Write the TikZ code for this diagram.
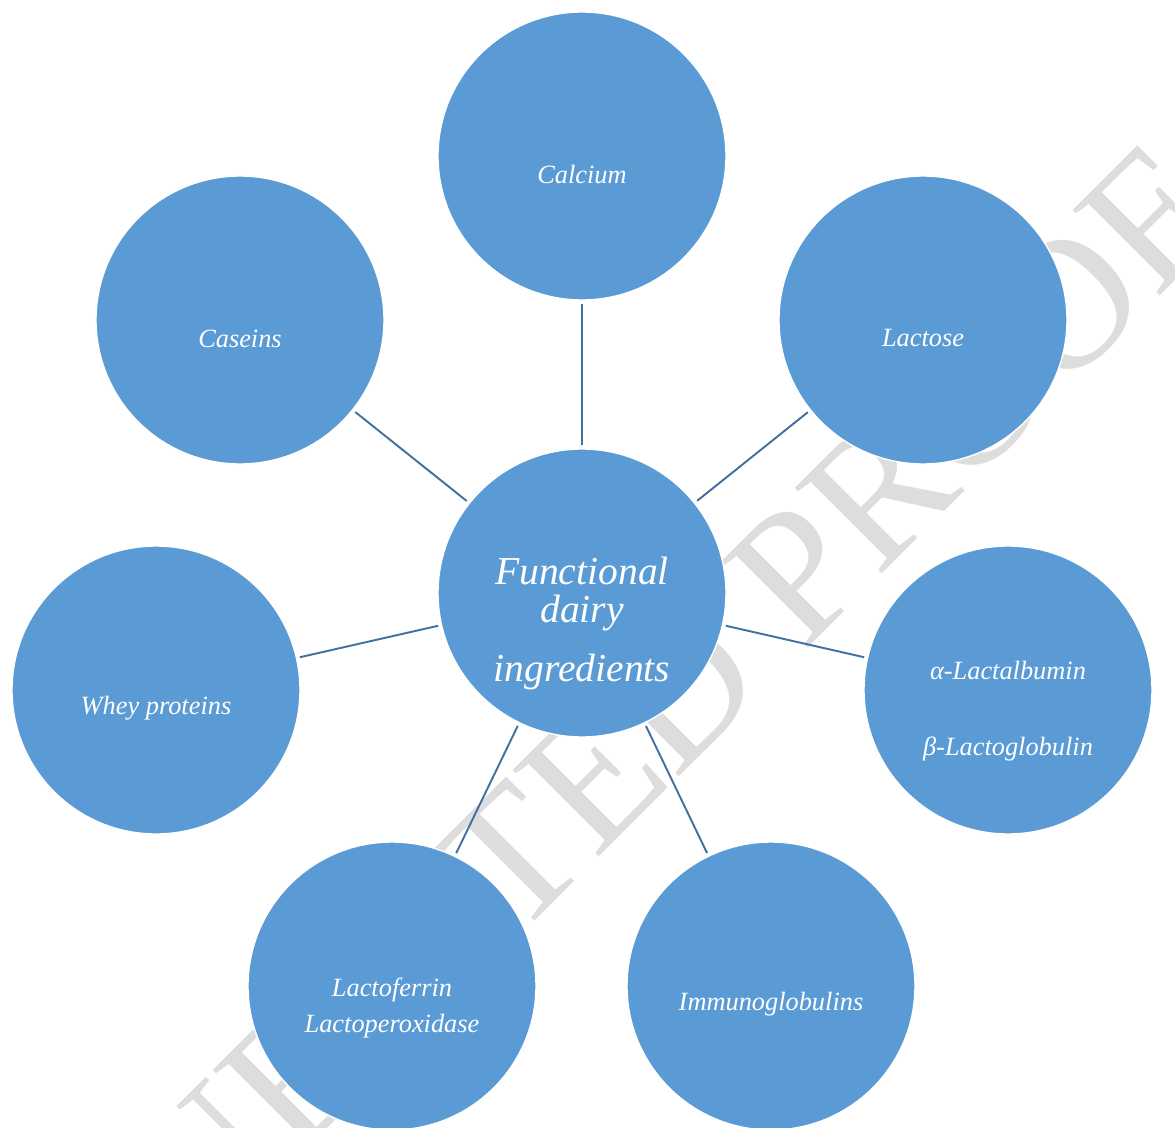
\documentclass[tikz,border=0pt]{standalone}
\usepackage{fontspec}
\setmainfont{Liberation Serif}
\usetikzlibrary{calc}
\definecolor{bubblefill}{HTML}{5B9BD5}
\definecolor{spokeblue}{HTML}{41719C}
\definecolor{markgray}{HTML}{DDDDDD}

\begin{document}
\begin{tikzpicture}
    \tikzstyle{every node}=[font=\itshape\fontsize{15}{18}\selectfont, text=white]
    \tikzstyle{bubble}=[circle, fill=bubblefill, draw=white, line width=0.8pt, minimum size=5.76cm, inner sep=0pt, outer sep=2pt]
    \tikzstyle{caption}=[yshift=-0.37cm, align=center]
    \tikzstyle{spoke}=[draw=spokeblue, line width=1.1pt]
    \useasboundingbox (-11.64,-10.68) rectangle (11.86,11.86);
    \clip (-11.64,-10.68) rectangle (11.86,11.86);
    % watermark behind everything
    \node[font=\fontsize{106}{110}\selectfont, text=markgray, rotate=45, anchor=base east] (mark) at (13.02,7.40) {UNEDITED PROOF};
    \node[bubble, label={[caption, yshift=-0.24cm, font=\itshape\fontsize{22.5}{27}\selectfont]center:{Functional\\[-5pt]dairy\\[6.5pt]ingredients}}] (core) at (0,0) {}; %
    \node[bubble, label={[caption]center:Calcium}] (calcium) at ($(core)+(0,8.74)$) {}; %
    \node[bubble, label={[caption]center:Caseins}] (caseins) at ($(core)+(-6.84,5.46)$) {}; %
    \node[bubble, label={[caption]center:Lactose}] (lactose) at ($(core)+(6.82,5.46)$) {}; %
    \node[bubble, label={[caption]center:Whey proteins}] (whey) at ($(core)+(-8.52,-1.94)$) {}; %
    \node[bubble, label={[caption, yshift=-0.05cm]center:{α-Lactalbumin\\[25.6pt]β-Lactoglobulin}}] (albumin) at ($(core)+(8.52,-1.94)$) {}; %
    \node[bubble, label={[caption, yshift=-0.07cm]center:{Lactoferrin\\[3pt]Lactoperoxidase}}] (ferrin) at ($(core)+(-3.8,-7.86)$) {}; %
    \node[bubble, label={[caption]center:Immunoglobulins}] (immuno) at ($(core)+(3.78,-7.86)$) {}; %
    \draw[spoke] (core) -- (calcium); %
    \draw[spoke] (core) -- (caseins); %
    \draw[spoke] (core) -- (lactose); %
    \draw[spoke] (core) -- (whey); %
    \draw[spoke] (core) -- (albumin); %
    \draw[spoke] (core) -- (ferrin); %
    \draw[spoke] (core) -- (immuno); %
\end{tikzpicture}
\end{document}
